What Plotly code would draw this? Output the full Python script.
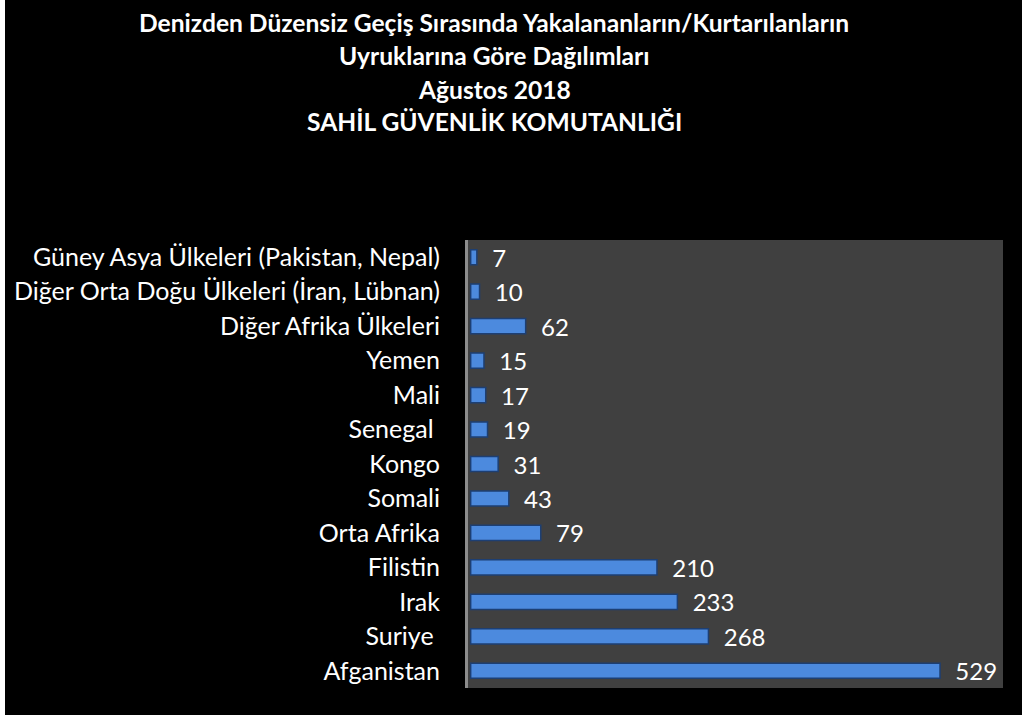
import plotly.graph_objects as go

categories = [
    "Güney Asya Ülkeleri (Pakistan, Nepal)",
    "Diğer Orta Doğu Ülkeleri (İran, Lübnan)",
    "Diğer Afrika Ülkeleri",
    "Yemen",
    "Mali",
    "Senegal ",
    "Kongo",
    "Somali",
    "Orta Afrika",
    "Filistin",
    "Irak",
    "Suriye ",
    "Afganistan",
]
values = [7, 10, 62, 15, 17, 19, 31, 43, 79, 210, 233, 268, 529]

title_lines = [
    "Denizden Düzensiz Geçiş Sırasında Yakalananların/Kurtarılanların",
    "Uyruklarına Göre Dağılımları",
    "Ağustos 2018",
    "SAHİL GÜVENLİK KOMUTANLIĞI",
]

W, H = 1022, 715
ML, MR, MT, MB = 468, 19, 240, 27
PW, PH = W - ML - MR, H - MT - MB

FONT = "Lato"

fig = go.Figure()
fig.add_trace(go.Bar(
    x=values,
    y=categories,
    orientation="h",
    marker=dict(color="#4c8ade", line=dict(color="#1d3f73", width=1.5)),
    text=values,
    texttemplate="  %{x}",
    textposition="outside",
    constraintext="none",
    textfont=dict(color="white", size=24, family=FONT),
    cliponaxis=False,
))

title_y = [22, 56, 89, 121]
for line, py in zip(title_lines, title_y):
    fig.add_annotation(
        text="<b>" + line + "</b>",
        x=(494 - ML) / PW, y=(H - MB - py) / PH,
        xref="paper", yref="paper",
        xanchor="center", yanchor="middle",
        showarrow=False,
        font=dict(color="white", size=24.6, family=FONT),
    )

# white strip at left edge
fig.add_shape(
    type="rect", xref="paper", yref="paper",
    x0=(0 - ML) / PW, x1=(5 - ML) / PW,
    y0=-MB / PH - 0.01, y1=(H - MB) / PH + 0.01,
    fillcolor="white", line=dict(width=0), layer="above",
)

fig.update_layout(
    width=W, height=H,
    margin=dict(l=ML, r=MR, t=MT, b=MB, pad=0),
    paper_bgcolor="black",
    plot_bgcolor="#404040",
    bargap=0.56,
    showlegend=False,
    xaxis=dict(range=[-3, 600], showgrid=False, zeroline=False,
               showticklabels=False, ticks="", fixedrange=True),
    yaxis=dict(categoryorder="array", categoryarray=categories[::-1],
               showgrid=False, zeroline=False, showline=True,
               linecolor="#8c8c8c", linewidth=3, ticks="",
               ticklabelstandoff=20, fixedrange=True,
               tickfont=dict(color="white", size=25, family=FONT)),
)

fig.write_html("out.html", config={"displayModeBar": False},
               post_script="document.body.style.margin='0';")
